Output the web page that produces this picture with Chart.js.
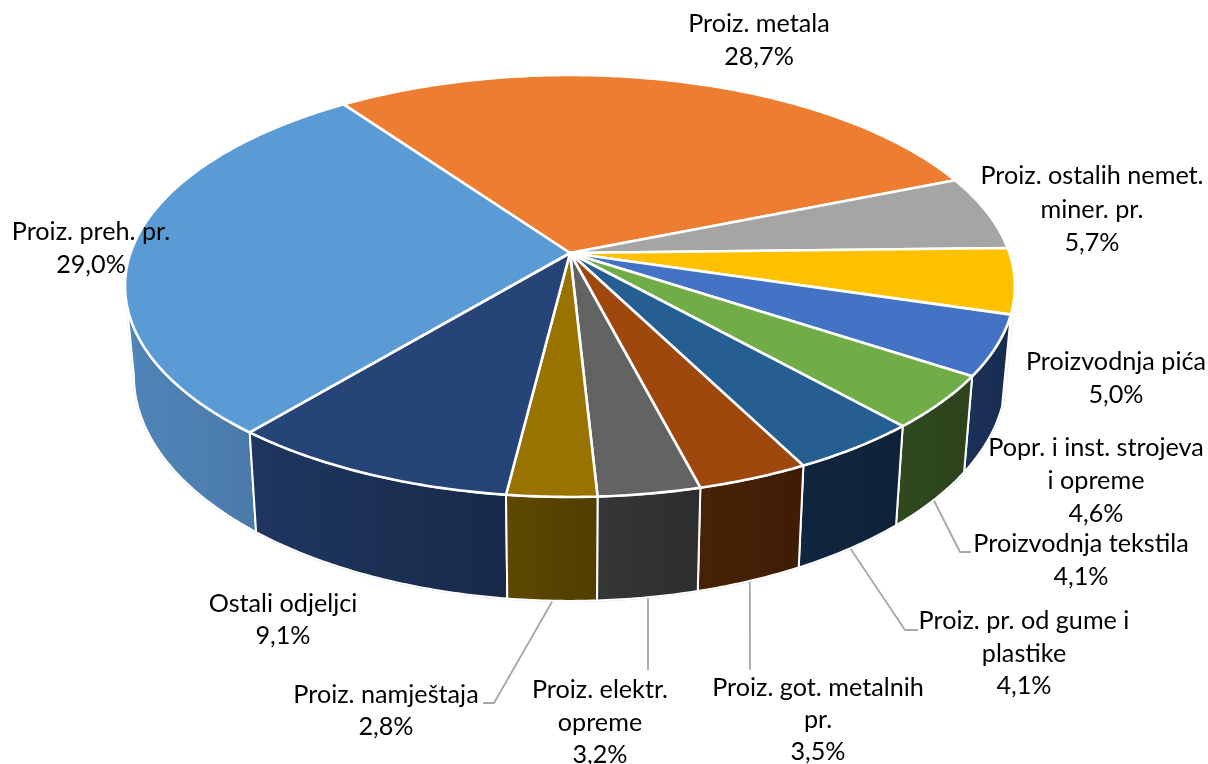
<!DOCTYPE html>
<html lang="hr">

<head>
    <meta charset="UTF-8">
    <title>Udio odjeljaka</title>
    <script src="https://cdn.jsdelivr.net/npm/chart.js"></script>
    <style>
        html, body { margin: 0; padding: 0; background: #fff; }
        canvas { display: block; }
    </style>
</head>

<body>
    <canvas id="myChart" width="1208" height="764"></canvas>
    <script>
        // categories, one array per line of the label
        var categories = [
            ['Proiz. metala'],
            ['Proiz. ostalih nemet.', 'miner. pr.'],
            ['Proizvodnja pića'],
            ['Popr. i inst. strojeva', 'i opreme'],
            ['Proizvodnja tekstila'],
            ['Proiz. pr. od gume i', 'plastike'],
            ['Proiz. got. metalnih', 'pr.'],
            ['Proiz. elektr.', 'opreme'],
            ['Proiz. namještaja'],
            ['Ostali odjeljci'],
            ['Proiz. preh. pr.']
        ];
        var shares = [28.7, 5.7, 5.0, 4.6, 4.1, 4.1, 3.5, 3.2, 2.8, 9.1, 29.0];

        var topColors = ['#ED7D31', '#A5A5A5', '#FFC000', '#4472C4', '#70AD47', '#255E91', '#9E480E', '#636363', '#997300', '#264478', '#5B9BD5'];
        var wallColorsA = ['#8a4a1d', '#606060', '#a07a00', '#1c3159', '#30491e', '#10263f', '#482207', '#363636', '#5e4900', '#1f3660', '#5085b9'];
        var wallColorsB = ['#7a4119', '#555555', '#8c6b00', '#182c50', '#2c431b', '#0e2338', '#3e1d05', '#2e2e2e', '#503e00', '#182a48', '#4a7aaa'];

        // label centre x and the y of each line
        var labelX = [759, 1092, 1116, 1096, 1081, 1024, 818, 600, 386, 283, 91];
        var labelY = [
            [24, 57], [176, 210, 243], [362, 395], [448, 481, 514], [544, 577],
            [621, 654, 686], [688, 720, 752], [690, 723, 755], [695, 727], [604, 636], [232, 265]
        ];
        // leader line bends, starts on the bottom rim of the slice
        var leaders = {
            4: [[960, 552], [971, 552]],
            5: [[905, 630], [918, 630]],
            6: [[750, 670]],
            7: [[648, 670]],
            8: [[494, 703], [483, 703]]
        };

        // perspective of the disc, top and bottom face
        var cx = 570, k = 0.1564;
        var topFace = { a: 439.5, b: 205.8, y: 253 };
        var bottomFace = { a: 430.7, b: 219.5, y: 340.7 };

        function project(face, angle) {
            var X = Math.cos(angle), Y = Math.sin(angle), w = 1 / (1 - k * Y);
            return [cx + face.a * X * w, face.y + face.b * Y * w];
        }

        function arcPoints(face, from, to) {
            var pts = [], steps = Math.max(2, Math.ceil((to - from) / 0.01));
            for (var i = 0; i <= steps; i++) {
                pts.push(project(face, from + (to - from) * i / steps));
            }
            return pts;
        }

        function tracePolygon(ctx, pts) {
            ctx.beginPath();
            pts.forEach(function (p, i) {
                if (i == 0) ctx.moveTo(p[0], p[1]);
                else ctx.lineTo(p[0], p[1]);
            });
            ctx.closePath();
        }

        var pie3d = {
            id: 'pie3d',
            beforeDatasetsDraw: function (chart) {
                var ctx = chart.ctx;
                var arcs = chart.getDatasetMeta(0).data;
                var minA = Math.asin(k), maxA = Math.PI - minA;
                ctx.save();
                ctx.lineJoin = 'round';

                // walls, from the sides to the front
                var order = arcs.map(function (arc, i) { return i; }).filter(function (i) {
                    return Math.sin((arcs[i].startAngle + arcs[i].endAngle) / 2) > -0.2 || arcs[i].endAngle - arcs[i].startAngle > 1.5;
                });
                order.sort(function (p, q) {
                    var mp = (arcs[p].startAngle + arcs[p].endAngle) / 2, mq = (arcs[q].startAngle + arcs[q].endAngle) / 2;
                    return Math.sin(mp) - Math.sin(mq);
                });

                // soft outline of the whole wall
                var outline = arcPoints(bottomFace, minA, maxA);
                ctx.strokeStyle = '#d8d8d8';
                ctx.lineWidth = 2.5;
                tracePolygon(ctx, [project(topFace, minA)].concat(outline, [project(topFace, maxA)]));
                ctx.stroke();

                order.forEach(function (i) {
                    var from = arcs[i].startAngle, to = arcs[i].endAngle;
                    // keep angles in the same turn as the visible range
                    while (to > 2 * Math.PI + maxA) { from -= 2 * Math.PI; to -= 2 * Math.PI; }
                    from = Math.max(from, minA);
                    to = Math.min(to, maxA);
                    if (to <= from) return;
                    var top = arcPoints(topFace, from, to);
                    var bottom = arcPoints(bottomFace, from, to).reverse();
                    var xs = top.concat(bottom).map(function (p) { return p[0]; });
                    var grad = ctx.createLinearGradient(Math.min.apply(null, xs), 0, Math.max.apply(null, xs), 0);
                    grad.addColorStop(0, wallColorsA[i]);
                    grad.addColorStop(1, wallColorsB[i]);
                    tracePolygon(ctx, top.concat(bottom));
                    ctx.fillStyle = grad;
                    ctx.fill();
                    ctx.strokeStyle = '#fff';
                    ctx.lineWidth = 2;
                    ctx.stroke();
                });

                // top of the slices
                arcs.forEach(function (arc, i) {
                    var pts = [[cx, topFace.y]].concat(arcPoints(topFace, arc.startAngle, arc.endAngle));
                    tracePolygon(ctx, pts);
                    ctx.fillStyle = topColors[i];
                    ctx.fill();
                    ctx.strokeStyle = '#fff';
                    ctx.lineWidth = 2.6;
                    ctx.stroke();
                });

                // leader lines
                ctx.strokeStyle = '#a6a6a6';
                ctx.lineWidth = 1.8;
                Object.keys(leaders).forEach(function (i) {
                    var mid = (arcs[i].startAngle + arcs[i].endAngle) / 2;
                    var start = project(bottomFace, mid);
                    ctx.beginPath();
                    ctx.moveTo(start[0], start[1] + 1);
                    leaders[i].forEach(function (p) { ctx.lineTo(p[0], p[1]); });
                    ctx.stroke();
                });

                // labels
                ctx.fillStyle = '#000';
                ctx.font = '25.2px Lato';
                ctx.textAlign = 'center';
                ctx.textBaseline = 'middle';
                categories.forEach(function (lines, i) {
                    var text = lines.concat([shares[i].toFixed(1).replace('.', ',') + '%']);
                    text.forEach(function (line, n) {
                        ctx.fillText(line, labelX[i], labelY[i][n]);
                    });
                });
                ctx.restore();
                return false;
            }
        };

        var chart01 = new Chart(document.getElementById('myChart'), {
            type: 'pie',
            data: {
                labels: categories.map(function (c) { return c.join(' '); }),
                datasets: [{ data: shares, backgroundColor: topColors, borderColor: '#fff' }]
            },
            options: {
                responsive: false,
                animation: false,
                rotation: -35.5,
                plugins: { legend: { display: false }, tooltip: { enabled: false } }
            },
            plugins: [pie3d]
        });
    </script>
</body>

</html>
